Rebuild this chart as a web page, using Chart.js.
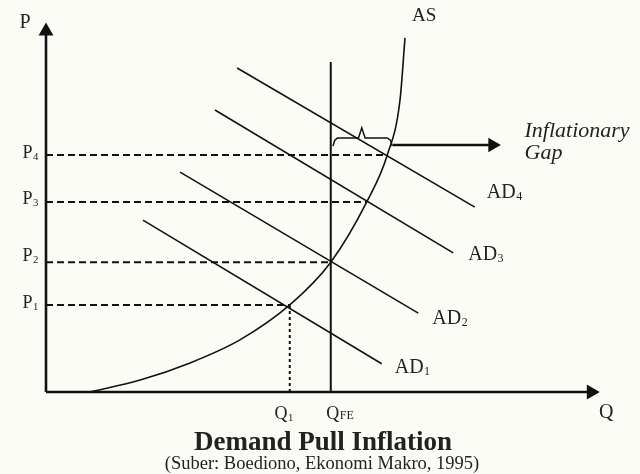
<!DOCTYPE html>
<html>
<head>
<meta charset="utf-8">
<script src="https://cdn.jsdelivr.net/npm/chart.js@4"></script>
<style>
  html,body{margin:0;padding:0;background:#fcfcf7;}
  canvas{display:block;}
</style>
</head>
<body>
<canvas id="chart" width="640" height="474"></canvas>
<script>
// ======================================
// DATA (Q on x, P on y, both 0..100)
// ======================================
const priceLabels = ['1','2','3','4'];          // P1..P4 subscripts
const priceLevels = [23.4, 34.9, 51.1, 63.7];   // P1..P4
const priceMeetAS = [44.0, 51.4, 57.9, 61.6];   // Q where each P meets AS

const q1 = 44.0;
const qFE = 51.4;
const qFETop = 88.7;

// aggregate supply curve
const asQ = [7.9, 17.0, 26.0, 35.0, 44.0, 51.4, 57.9, 61.6, 63.9, 64.8];
const asP = [0, 3.2, 7.8, 14.0, 23.4, 34.9, 51.1, 63.7, 78.5, 95.2];

// aggregate demand lines: [start, end]
const adNames = ['1','2','3','4'];
const adQ = [[17.5, 60.6], [24.2, 67.2], [30.5, 73.5], [34.5, 77.4]];
const adP = [[46.2, 7.6], [59.1, 21.2], [75.8, 37.4], [87.1, 49.7]];

// inflationary gap brace + arrow
const braceQ = [51.8, 52.1, 52.6, 56.4, 57.0, 57.6, 61.6, 62.2, 62.5];
const braceP = [66.1, 67.6, 68.3, 68.3, 71.0, 68.3, 68.3, 67.6, 66.1];
const gapArrowQ = [62.6, 80.6];
const gapArrowP = [66.4, 66.4];

const axisMaxQ = 98.4;
const axisMaxP = 97.0;

// ======================================
// HELPERS
// ======================================
const SERIF = '"Liberation Serif", "DejaVu Serif", serif';

function pts(xs, ys){
  return xs.map((x,i)=>({x:x, y:ys[i]}));
}

function lineSet(data, extra){
  return Object.assign({
    data:data,
    showLine:true,
    borderColor:'#111',
    borderWidth:1.6,
    pointRadius:0,
    tension:0,
    clip:false
  }, extra || {});
}

const datasets = [];

// axes with arrow heads
datasets.push(lineSet(pts([0,0],[0,axisMaxP]), {
  borderWidth:2.6,
  pointRadius:[0,6],
  pointStyle:'triangle',
  pointBackgroundColor:'#111',
  pointBorderColor:'#111'
}));
datasets.push(lineSet(pts([0,axisMaxQ],[0,0]), {
  borderWidth:2.6,
  pointRadius:[0,6],
  pointStyle:'triangle',
  rotation:90,
  pointBackgroundColor:'#111',
  pointBorderColor:'#111'
}));

// dashed price levels
priceLevels.forEach((p,i)=>{
  datasets.push(lineSet(pts([0,priceMeetAS[i]],[p,p]), {
    borderWidth:2,
    borderDash:[7,4]
  }));
});

// dotted Q1
datasets.push(lineSet(pts([q1,q1],[priceLevels[0],0]), {
  borderWidth:2,
  borderDash:[3,3]
}));

// full employment line
datasets.push(lineSet(pts([qFE,qFE],[0,qFETop]), {borderWidth:2}));

// AS curve
datasets.push(lineSet(pts(asQ,asP), {
  cubicInterpolationMode:'monotone'
}));

// AD lines
adQ.forEach((q,i)=>{
  datasets.push(lineSet(pts(q,adP[i])));
});

// brace
datasets.push(lineSet(pts(braceQ,braceP), {borderWidth:1.5}));

// gap arrow
datasets.push(lineSet(pts(gapArrowQ,gapArrowP), {
  borderWidth:2.4,
  pointRadius:[0,6],
  pointStyle:'triangle',
  rotation:90,
  pointBackgroundColor:'#111',
  pointBorderColor:'#111'
}));

// ======================================
// TEXT LABELS
// ======================================
function drawSub(ctx, main, sub, x, y, size, align, subSize, drop){

  subSize = subSize || size * 0.6;

  ctx.font = `${size}px ${SERIF}`;
  const w1 = ctx.measureText(main).width;

  ctx.font = `${subSize}px ${SERIF}`;
  const w2 = ctx.measureText(sub).width;

  let left = x;
  if(align === 'right') left = x - w1 - w2;
  if(align === 'center') left = x - (w1 + w2) / 2;

  const base = y + size * 0.33;

  ctx.font = `${size}px ${SERIF}`;
  ctx.fillText(main, left, base);

  ctx.font = `${subSize}px ${SERIF}`;
  ctx.fillText(sub, left + w1 + 0.5, base + (drop === undefined ? size*0.1 : drop));
}

const labelPlugin = {
  id:'labels',
  afterDatasetsDraw(chart){

    const ctx = chart.ctx;
    const xs = chart.scales.x;
    const ys = chart.scales.y;
    const X = v => xs.getPixelForValue(v);
    const Y = v => ys.getPixelForValue(v);

    ctx.save();
    ctx.fillStyle = '#222';
    ctx.textAlign = 'left';
    ctx.textBaseline = 'alphabetic';

    // axis names
    ctx.font = `20px ${SERIF}`;
    ctx.textAlign = 'center';
    ctx.fillText('P', X(0) - 21, Y(axisMaxP) - 3);
    ctx.fillText('Q', X(axisMaxQ) + 15, Y(0) + 26);
    ctx.textAlign = 'left';

    // price labels
    const pShift = [-3,-7,-4,-3];
    priceLevels.forEach((p,i)=>{
      drawSub(ctx, 'P', priceLabels[i], X(0) - 8, Y(p) + pShift[i], 18, 'right');
    });

    // quantity labels
    drawSub(ctx, 'Q', '1', X(q1) - 6, Y(0) + 21, 18, 'center');
    drawSub(ctx, 'Q', 'FE', X(qFE) + 9, Y(0) + 21, 18, 'center', 12, 0);

    // AS
    ctx.font = `19px ${SERIF}`;
    ctx.fillText('AS', X(asQ[asQ.length-1]) + 7, Y(asP[asP.length-1]) - 17);

    // AD labels
    const adOffsets = [[13,3],[14,4],[15,1],[12,-16]];
    adQ.forEach((q,i)=>{
      drawSub(ctx, 'AD', adNames[i],
        X(q[1]) + adOffsets[i][0], Y(adP[i][1]) + adOffsets[i][1], 20, 'left');
    });

    // inflationary gap
    ctx.font = `italic 22px ${SERIF}`;
    ctx.fillText('Inflationary', X(gapArrowQ[1]) + 32, Y(gapArrowP[1]) - 8);
    ctx.fillText('Gap', X(gapArrowQ[1]) + 32, Y(gapArrowP[1]) + 14);

    // caption
    ctx.textAlign = 'center';
    ctx.font = `bold 27px ${SERIF}`;
    ctx.fillText('Demand Pull Inflation', 323, 450);
    ctx.font = `18.5px ${SERIF}`;
    ctx.fillText('(Suber: Boediono, Ekonomi Makro, 1995)', 322, 469);

    ctx.restore();
  }
};

// ======================================
// CHART
// ======================================
new Chart(document.getElementById('chart'), {

  type:'scatter',

  data:{ datasets },

  options:{
    responsive:false,
    animation:false,
    layout:{
      padding:{ left:46, right:40, top:20, bottom:82 }
    },
    plugins:{
      legend:{ display:false },
      tooltip:{ enabled:false }
    },
    scales:{
      x:{ type:'linear', min:0, max:100, display:false },
      y:{ type:'linear', min:0, max:100, display:false }
    }
  },

  plugins:[labelPlugin]
});
</script>
</body>
</html>
